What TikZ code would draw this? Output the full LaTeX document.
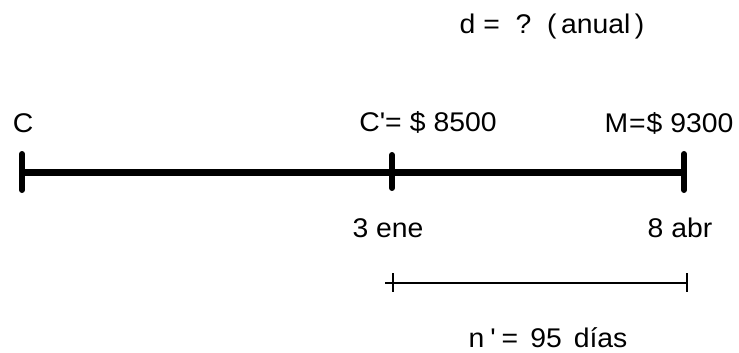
\documentclass[tikz,border=0pt]{standalone}
\usepackage{fontspec}
\setmainfont{Liberation Sans}[Ligatures=TeXOff,FakeStretch=1.05]
\begin{document}
\begin{tikzpicture}[x=1pt,y=-1pt,
  lbl/.style={inner sep=0pt,anchor=base,font=\fontsize{27}{31}\selectfont},
  thickline/.style={line width=7pt},
  ticktick/.style={line width=6pt,line cap=round},
  thinline/.style={line width=1.3pt}]
\useasboundingbox (0,0) rectangle (739,353);
\coordinate (A) at (22,172);
\coordinate (B) at (392,172);
\coordinate (E) at (684,172);
\draw[thickline] (A) -- (E);
\draw[ticktick] (22,154) -- (22,190);
\draw[ticktick] (392,155) -- (392,188);
\draw[ticktick] (684,154) -- (684,190);
\node[lbl] (d) at (552,34) {d =\ \ ?\ \ (\,anual\,)};
\node[lbl] (c) at (23,132) {C};
\node[lbl] (cp) at (428,131) {C'=\hspace{8pt}\$\hspace{8pt}8500};
\node[lbl] (m) at (669,132) {M\hspace{1pt}=\hspace{1pt}\$\hspace{8pt}9300};
\node[lbl] (e1) at (388,237) {3 ene};
\node[lbl] (e2) at (680,237) {8 abr};
\coordinate (L) at (385,283);
\coordinate (R) at (687,283);
\draw[thinline] (L) -- (R);
\draw[thinline] (393,273) -- (393,292);
\draw[thinline] (687,273) -- (687,292);
\node[lbl] (n) at (548,347) {n\hspace{6pt}'\hspace{6pt}=\hspace{12pt}95\hspace{12pt}días};
\end{tikzpicture}
\end{document}
